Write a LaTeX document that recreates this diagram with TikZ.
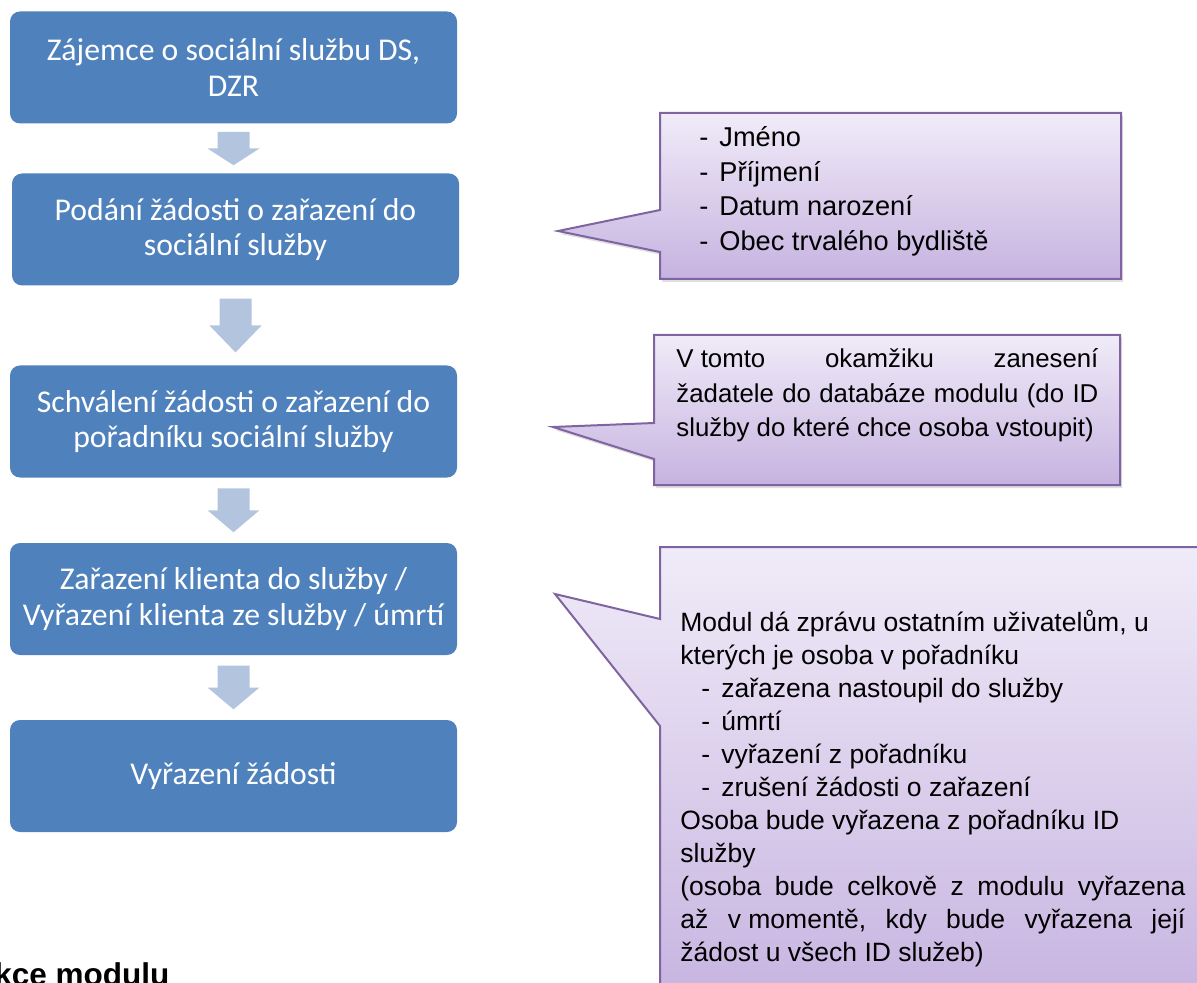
\documentclass[tikz,border=0pt]{standalone}
\usepackage{fontspec}
\usepackage{tikz}
\usetikzlibrary{%
  calc,%
  shadows,%
}
\newfontfamily\boxfont{Carlito}
\newfontfamily\notefont{Liberation Sans}

\definecolor{stepblue}{HTML}{4F81BD}
\definecolor{arrowblue}{HTML}{B3C4DE}
\definecolor{noteline}{HTML}{8064A2}
\definecolor{notetop}{HTML}{F0EBF8}
\definecolor{notebottom}{HTML}{C6B3E0}

\newcommand{\flowarrow}[2]{%
  \fill[arrowblue] let \p1=(#1.south), \p2=(#2.north), \n1={\y1-\y2} in
    (\x1-8pt, \y1-0.16*\n1) -- (\x1+8pt, \y1-0.16*\n1) -- (\x1+8pt, \y1-0.5*\n1)
    -- (\x1+13pt, \y1-0.5*\n1) -- (\x1, \y1-0.84*\n1) -- (\x1-13pt, \y1-0.5*\n1)
    -- (\x1-8pt, \y1-0.5*\n1) -- cycle;}
\newcommand{\dashitem}[1]{\makebox[10pt][l]{-}#1}
\newcommand{\fullline}[2]{\makebox[#1][s]{#2}}

\begin{document}
\begin{tikzpicture}[x=0.5pt, y=-0.5pt,
    stepbox/.style={fill=stepblue, rounded corners=5pt, text=white,
      minimum width=223.5pt, minimum height=56pt, align=center,
      font=\boxfont\fontsize{15.85}{17.85}\selectfont},
    notebox/.style={draw=noteline, line width=1pt, top color=notetop,
      bottom color=notebottom,
      drop shadow={opacity=0.25, shadow xshift=1pt, shadow yshift=-1.5pt}},
    notetext/.style={inner sep=0pt, anchor=base west, align=left,
      font=\notefont\fontsize{13.25}{16.5}\selectfont}]

      \useasboundingbox (0, 0) rectangle (1197, 983);
      \clip (0, 0) rectangle (1197, 983);

      % flow of the request
      \node[stepbox] (zajemce) at (233.5, 67.5)
        {Zájemce o sociální službu DS,\\ DZR};
      \node[stepbox] (podani) at (235.5, 229.5)
        {Podání žádosti o zařazení do\\ sociální služby};
      \node[stepbox] (schvaleni) at (233.5, 421.5)
        {Schválení žádosti o zařazení do\\ pořadníku sociální služby};
      \node[stepbox] (zarazeni) at (233.5, 599)
        {Zařazení klienta do služby /\\ Vyřazení klienta ze služby / úmrtí};
      \node[stepbox] (vyrazeni) at (233.5, 776) {Vyřazení žádosti};

      \flowarrow{zajemce}{podani}
      \flowarrow{podani}{schvaleni}
      \flowarrow{schvaleni}{zarazeni}
      \flowarrow{zarazeni}{vyrazeni}

      % notes on the right (text nodes sit on their last baseline)
      \draw[notebox] (660, 113) -- (1121, 113) -- (1121, 279) -- (660, 279)
        -- (660, 252) -- (558, 231) -- (660, 210) -- cycle;
      \node[notetext, font=\notefont\fontsize{13.6}{17.25}\selectfont]
        (udaje) at (699, 250.5)
        {\dashitem{Jméno}\\ \dashitem{Příjmení}\\
         \dashitem{Datum narození}\\ \dashitem{Obec trvalého bydliště}};

      \draw[notebox] (654, 335) -- (1120, 335) -- (1120, 485) -- (654, 485)
        -- (654, 459) -- (553, 427) -- (654, 423) -- cycle;
      \node[notetext, font=\notefont\fontsize{12.9}{17.25}\selectfont]
        (zaneseni) at (676, 437)
        {\fullline{211pt}{\mbox{V tomto} okamžiku zanesení}\\
         \fullline{211pt}{žadatele do databáze modulu (do ID}\\
         služby do které chce osoba vstoupit)};

      \draw[notebox] (660, 547) -- (1210, 547) -- (1210, 1010) -- (660, 1010)
        -- (660, 726) -- (555, 594) -- (660, 619) -- cycle;
      \node[notetext] (zprava) at (680, 961)
        {Modul dá zprávu ostatním uživatelům, u\\
         kterých je osoba v pořadníku\\
         \hspace*{10.5pt}\dashitem{zařazena nastoupil do služby}\\
         \hspace*{10.5pt}\dashitem{úmrtí}\\
         \hspace*{10.5pt}\dashitem{vyřazení z pořadníku}\\
         \hspace*{10.5pt}\dashitem{zrušení žádosti o zařazení}\\
         Osoba bude vyřazena z pořadníku ID\\
         služby\\
         \fullline{252.5pt}{(osoba bude celkově z modulu vyřazena}\\
         \fullline{252.5pt}{až \mbox{v momentě,} kdy bude vyřazena její}\\
         žádost u všech ID služeb)};

      \node[inner sep=0pt, anchor=base west,
        font=\notefont\bfseries\fontsize{15.75}{18}\selectfont] (nadpis)
        at (-6, 985) {kce modulu};

    \end{tikzpicture}
\end{document}
